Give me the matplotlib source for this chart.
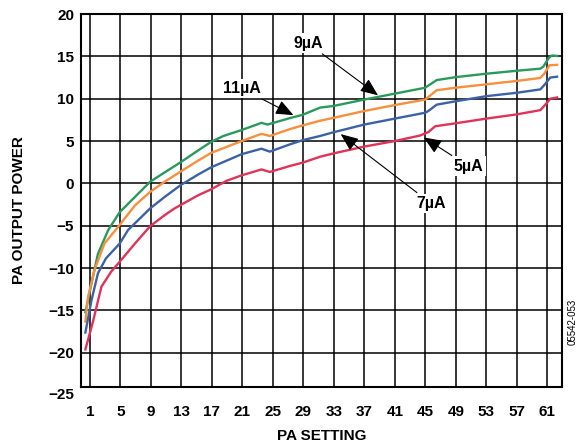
import numpy as np
import matplotlib.pyplot as plt

plt.rcParams['font.family'] = ['Liberation Sans', 'DejaVu Sans']
plt.rcParams['font.weight'] = 'bold'
plt.rcParams['axes.labelweight'] = 'bold'
plt.rcParams['font.size'] = 11

# PA output power vs PA setting, one curve per PA bias current
x_11ua = [0.4, 1.2, 2.05, 3.4, 4.9, 6.9, 8.9, 10.8, 12.9, 15.2, 16.9, 18.5, 20.9, 23.5, 24.3,
          27.2, 28.9, 31.2, 33, 37, 41, 45, 45.4, 46.5, 49, 53, 57, 60.1, 60.5, 61.2, 61.6, 62.3]
y_11ua = [-15.2, -11.8, -8.3, -5.5, -3.4, -1.6, 0.2, 1.3, 2.5, 3.9, 4.9, 5.6, 6.3, 7.15, 6.95,
          7.7, 8.1, 8.95, 9.15, 9.9, 10.6, 11.3, 11.55, 12.2, 12.55, 12.95, 13.3, 13.55, 13.8, 14.8, 15.1, 15.05]

x_9ua = [0.4, 0.75, 1.6, 2.9, 4.9, 6.9, 8.9, 10.8, 12.9, 15.2, 16.9, 20.9, 23.5, 24.6, 27.2,
         28.9, 31.2, 33, 37, 41, 45, 45.4, 46.5, 49, 53, 57, 60.1, 60.6, 61.3, 62.3]
y_9ua = [-16.3, -13.4, -10.2, -7.1, -4.9, -2.6, -1.0, 0.2, 1.4, 2.7, 3.6, 5.0, 5.85, 5.6, 6.4,
         6.85, 7.4, 7.75, 8.55, 9.25, 9.9, 10.2, 11.0, 11.3, 11.7, 12.1, 12.45, 12.95, 13.95, 14.0]

x_7ua = [0.4, 1.2, 2.05, 3.1, 4.9, 6.0, 8.9, 10.8, 12.9, 15.2, 16.9, 20.9, 23.5, 24.6, 27.2,
         28.9, 31.2, 33, 37, 41, 45, 45.4, 46.5, 49, 53, 57, 60.1, 60.7, 61.4, 62.3]
y_7ua = [-17.6, -13.8, -10.6, -8.85, -7.1, -5.5, -2.95, -1.6, -0.2, 1.05, 1.9, 3.45, 4.1, 3.75, 4.6,
         5.1, 5.6, 6.05, 6.95, 7.65, 8.35, 8.55, 9.3, 9.7, 10.3, 10.7, 11.1, 11.7, 12.5, 12.6]

x_5ua = [0.4, 1.4, 2.5, 3.8, 4.9, 6.9, 8.9, 10.8, 12.1, 12.9, 15.2, 16.9, 18.9, 20.9, 23.5, 24.6,
         27.2, 28.9, 31.2, 33, 37, 41, 44.3, 45.4, 46.3, 49, 53, 57, 60.1, 60.9, 61.4, 62.3]
y_5ua = [-19.6, -16.3, -12.2, -10.4, -9.25, -7.1, -5.05, -3.75, -2.95, -2.55, -1.4, -0.7, 0.3, 0.95, 1.65, 1.35,
         2.05, 2.45, 3.15, 3.55, 4.35, 5.0, 5.65, 6.05, 6.75, 7.1, 7.65, 8.15, 8.65, 9.45, 10.0, 10.15]

x_ticks = list(range(1, 62, 4))
y_ticks = list(range(-20, 21, 5))

fig = plt.figure(figsize=(5.78, 4.45), dpi=100)
ax = fig.add_axes([0.1401, 0.1303, 0.8322, 0.8382])

ax.plot(x_11ua, y_11ua, color='#2a9a5c', lw=1.7)
ax.plot(x_9ua, y_9ua, color='#f78f3c', lw=1.7)
ax.plot(x_7ua, y_7ua, color='#3b62a5', lw=1.7)
ax.plot(x_5ua, y_5ua, color='#e0335a', lw=1.7)

ax.set_xlim(-0.18, 62.94)
ax.set_ylim(-24.04, 20)
ax.set_xticks(x_ticks)
ax.set_yticks(y_ticks)
ax.grid(True, color='black', lw=1.1)
ax.set_axisbelow(True)
ax.tick_params(axis='both', length=0, labelsize=11)
ax.tick_params(axis='x', pad=13)
ax.tick_params(axis='y', pad=5)
for s in ax.spines.values():
    s.set_linewidth(1.5)

# bottom label sits below the frame in the original
ax.text(-0.0146, -25, '\u221225', transform=ax.get_yaxis_transform(),
        ha='right', va='center', fontsize=11, clip_on=False)

ax.set_xlabel('PA SETTING', fontsize=11)
ax.set_ylabel('PA OUTPUT POWER', fontsize=11)
ax.xaxis.set_label_coords(0.5, -0.112)
ax.yaxis.set_label_coords(-0.114, 0.475)

arr = dict(arrowstyle='-|>,head_length=0.6,head_width=0.25', color='black',
           lw=0.8, mutation_scale=18, shrinkA=1, shrinkB=0)
box = dict(boxstyle='square,pad=0.15', fc='white', ec='none')
ax.annotate('9\u00b5A', xy=(38.8, 10.4), xytext=(29.6, 16.56), ha='center', va='center',
            fontsize=11.5, bbox=box, arrowprops=arr)
ax.annotate('11\u00b5A', xy=(27.7, 8.06), xytext=(20.9, 11.2), ha='center', va='center',
            fontsize=11.5, bbox=box, arrowprops=arr)
ax.annotate('7\u00b5A', xy=(33.9, 5.82), xytext=(45.75, -2.36), ha='center', va='center',
            fontsize=11.5, bbox=box, arrowprops=arr)
ax.annotate('5\u00b5A', xy=(44.8, 5.43), xytext=(50.65, 2.04), ha='center', va='center',
            fontsize=11.5, bbox=box, arrowprops=arr)

fig.text(573 / 578, 1 - 322 / 445, '05542-053', rotation=90, ha='center', va='center',
         fontsize=7, fontweight='normal')

fig.savefig('out.png', dpi=100)
